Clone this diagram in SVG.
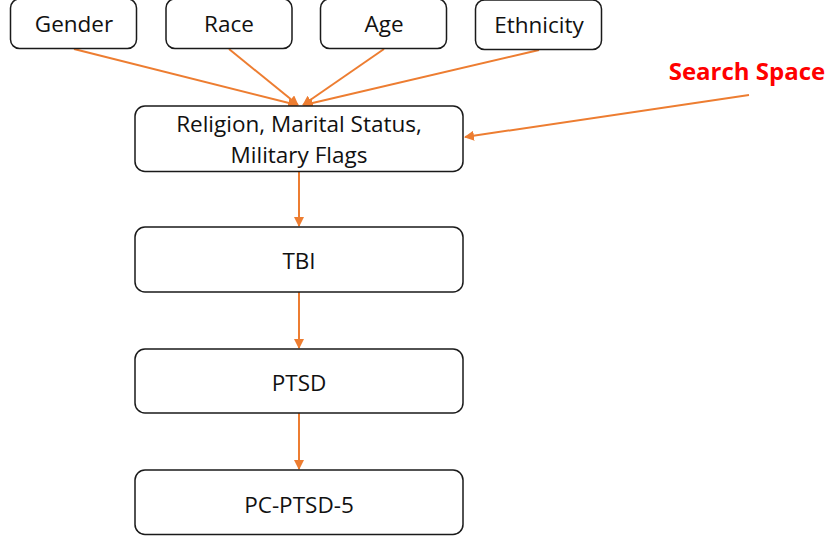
<svg xmlns="http://www.w3.org/2000/svg" width="832" height="539" viewBox="0 0 832 539">
  <style>
    .box { fill: #ffffff; stroke: #1a1a1a; stroke-width: 1.5; }
    .lbl { font-family: "Open Sans", "Liberation Sans", sans-serif; font-size: 22.5px; fill: #111111; text-anchor: middle; }
    .edge { stroke: #ED7D31; stroke-width: 2; fill: none; marker-end: url(#arrow); }
    .note { font-family: "Open Sans", "Liberation Sans", sans-serif; font-size: 24px; font-weight: bold; fill: #FF0000; text-anchor: middle; }
  </style>
  <defs>
    <marker id="arrow" viewBox="0 0 10 10" refX="9" refY="5" markerWidth="5" markerHeight="5" orient="auto" markerUnits="strokeWidth">
      <path d="M0,0 L10,5 L0,10 z" fill="#ED7D31"/>
    </marker>
  </defs>
  <rect width="832" height="539" fill="#ffffff"/>

  <g id="edges">
    <line class="edge" x1="74" y1="49" x2="297" y2="105"/>
    <line class="edge" x1="229" y1="49" x2="298" y2="105"/>
    <line class="edge" x1="384" y1="49" x2="303" y2="105"/>
    <line class="edge" x1="539" y1="50" x2="304" y2="105"/>
    <line class="edge" x1="749" y1="95" x2="465" y2="137"/>
    <line class="edge" x1="299" y1="172" x2="299" y2="226"/>
    <line class="edge" x1="299" y1="292" x2="299" y2="348"/>
    <line class="edge" x1="299" y1="413" x2="299" y2="469"/>
  </g>

  <g id="gender">
    <rect class="box" x="10.5" y="-1" width="126" height="49.5" rx="9"/>
    <text class="lbl" x="74" y="31.5">Gender</text>
  </g>
  <g id="race">
    <rect class="box" x="166" y="-1" width="126" height="49.5" rx="9"/>
    <text class="lbl" x="229" y="31.5">Race</text>
  </g>
  <g id="age">
    <rect class="box" x="320.5" y="-1" width="126" height="49.5" rx="9"/>
    <text class="lbl" x="384" y="31.5">Age</text>
  </g>
  <g id="ethnicity">
    <rect class="box" x="475.5" y="0" width="126" height="49.5" rx="9"/>
    <text class="lbl" x="539" y="32.5">Ethnicity</text>
  </g>

  <g id="search-space">
    <text class="note" x="747" y="80">Search Space</text>
  </g>

  <g id="religion">
    <rect class="box" x="135" y="106" width="328" height="65.5" rx="10"/>
    <text class="lbl" x="299" y="131.5">Religion, Marital Status,</text>
    <text class="lbl" x="299" y="162.5">Military Flags</text>
  </g>
  <g id="tbi">
    <rect class="box" x="135" y="227" width="328" height="65" rx="10"/>
    <text class="lbl" x="299" y="268.5">TBI</text>
  </g>
  <g id="ptsd">
    <rect class="box" x="135" y="349" width="328" height="64" rx="10"/>
    <text class="lbl" x="299" y="390.5">PTSD</text>
  </g>
  <g id="pc-ptsd-5">
    <rect class="box" x="135" y="470" width="328" height="64.5" rx="10"/>
    <text class="lbl" x="299" y="512.5">PC-PTSD-5</text>
  </g>
</svg>
